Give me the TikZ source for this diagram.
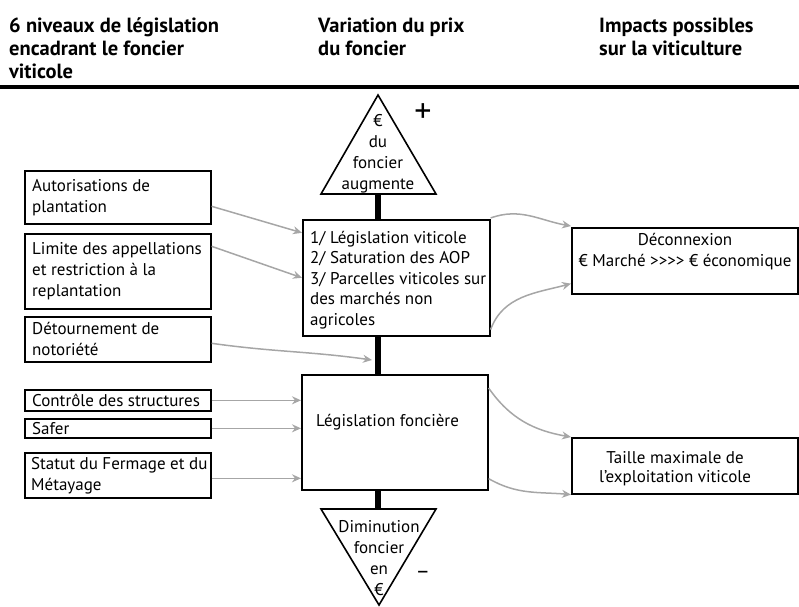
\documentclass[tikz,border=0pt]{standalone}
\usepackage{fontspec}
\setmainfont{PT Sans}
\usetikzlibrary{arrows.meta,calc}
\definecolor{arr}{HTML}{A6A6A6}
\begin{document}
\begin{tikzpicture}[x=1pt,y=-1pt,
  box/.style={draw,line width=1.6pt,anchor=north west,inner sep=0pt},
  txt/.style={anchor=west,align=left,inner sep=0pt,font=\fontsize{17}{21}\selectfont},
  ctxt/.style={align=center,inner sep=0pt,font=\fontsize{17}{21}\selectfont},
  conn/.style={draw=arr,line width=1.5pt,-{Stealth[length=9pt,width=8pt]}},
  bar/.style={line width=6pt},
  head/.style={anchor=base west,align=left,inner sep=0pt,font=\bfseries\fontsize{20.5}{23}\selectfont}]
\useasboundingbox (0,0) rectangle (799,606);
% headers
\node[head] (h1) at (9,78) {6 niveaux de législation\\encadrant le foncier\\viticole};
\node[head] (h2) at (318,55) {Variation du prix\\du foncier};
\node[head] (h3) at (599,55) {Impacts possibles\\sur la viticulture};
\coordinate (rl) at (0,87);
\coordinate (rr) at (799,87);
\draw[line width=3.5pt] (rl) -- (rr);
% left boxes
\node[box,minimum width=186,minimum height=53] (A) at (24,170) {};
\node[txt] (At) at ([xshift=8]A.west) {Autorisations de\\plantation};
\node[box,minimum width=186,minimum height=75] (B) at (24,233) {};
\node[txt] (Bt) at ([xshift=8]B.west) {Limite des appellations\\et restriction à la\\replantation};
\node[box,minimum width=186,minimum height=45] (C) at (24,316) {};
\node[txt] (Ct) at ([xshift=8]C.west) {Détournement de\\notoriété};
\node[box,minimum width=186,minimum height=21] (D) at (24,389) {};
\node[txt] (Dt) at ([xshift=8]D.west) {Contrôle des structures};
\node[box,minimum width=186,minimum height=19] (E) at (24,418) {};
\node[txt] (Et) at ([xshift=8]E.west) {Safer};
\node[box,minimum width=186,minimum height=45] (F) at (24,452) {};
\node[txt] (Ft) at ([xshift=7]F.west) {Statut du Fermage et du\\Métayage};
% centre boxes
\node[box,minimum width=187,minimum height=116] (P1) at (302,219) {};
\node[txt,font=\fontsize{17}{20.5}\selectfont] (P1t) at ([xshift=8,yshift=-2]P1.west) {1/ Législation viticole\\2/ Saturation des AOP\\3/ Parcelles viticoles sur\\des marchés non\\agricoles};
\node[box,minimum width=186,minimum height=115] (P2) at (301,374) {};
\node[txt] (P2t) at (316,422) {Législation foncière};
% right boxes
\node[box,minimum width=226,minimum height=66] (Dc) at (571,227) {};
\node[ctxt] (Dct) at (685,252) {Déconnexion\\€ Marché >{}>{}>{}> € économique};
\node[box,minimum width=226,minimum height=56] (T) at (571,437) {};
\node[ctxt,font=\fontsize{17}{19}\selectfont] (Tt) at (675,469) {Taille maximale de\\l’exploitation viticole};
% triangles
\coordinate (ta) at (378,95);
\coordinate (tr) at (436,194);
\coordinate (tl) at (321,194);
\draw[line width=1.6pt,line join=miter] (ta) -- (tr) -- (tl) -- cycle;
\node[ctxt] (tt) at (378,154) {€\\du\\foncier\\augmente};
\coordinate (ba) at (379,605);
\coordinate (br) at (436,509);
\coordinate (bl) at (321,509);
\draw[line width=1.6pt,line join=miter] (ba) -- (br) -- (bl) -- cycle;
\node[ctxt] (bt) at (379,558) {Diminution\\foncier\\en\\€};
\node[inner sep=0pt,font=\fontsize{34}{34}\selectfont] (plus) at (423,113) {+};
\node[inner sep=0pt,font=\fontsize{22}{22}\selectfont] (minus) at (423,575) {–};
% bars
\coordinate (tb) at (378,194);
\coordinate (bb) at (378,509);
\draw[bar] (tb) -- (P1.north -| tb);
\draw[bar] (P1.south -| tb) -- (P2.north -| tb);
\draw[bar] (P2.south -| tb) -- (bb);
% connectors
\coordinate (cbar) at (372,360);
\draw[conn] ([yshift=-9]A.east) -- ([yshift=45]P1.west);
\draw[conn] ([yshift=25]B.east) -- (P1.west);
\draw[conn] ([yshift=-4]C.east) to[out=-8,in=172] (cbar);
\draw[conn] (D.east) -- (D.east -| P2.west);
\draw[conn] (E.east) -- (E.east -| P2.west);
\draw[conn] ([yshift=-3]F.east) -- ([yshift=-3]F.east -| P2.west);
\draw[conn] ([yshift=1]P1.north east) to[out=20,in=170] ([yshift=1]Dc.north west);
\draw[conn] ([yshift=7]P1.south east) to[out=70,in=195] ([yshift=11]Dc.south west);
\draw[conn] ([yshift=-14]P2.north east) to[out=-55,in=170] (T.north west);
\draw[conn] ([yshift=12]P2.south east) to[out=-30,in=175] (T.south west);
\end{tikzpicture}
\end{document}
